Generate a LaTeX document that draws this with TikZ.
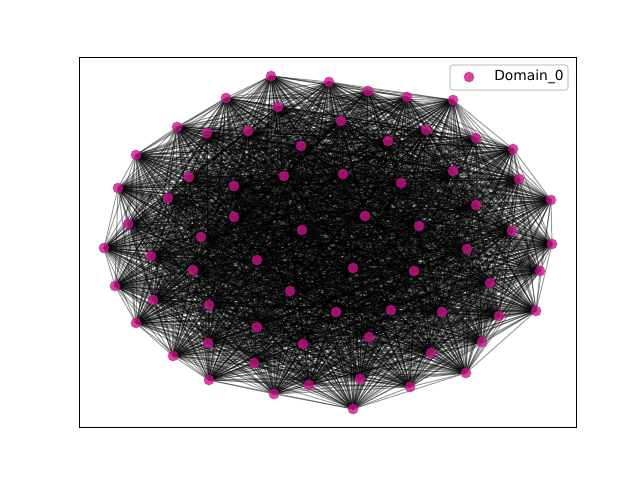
\documentclass[tikz,border=0pt]{standalone}
\usepackage{fontspec}
\setmainfont{DejaVu Sans}
\usepackage{xcolor}
\usetikzlibrary{backgrounds}

\definecolor{domcol}{RGB}{199,21,133}

\begin{document}
\begin{tikzpicture}[
    x=0.01in, y=-0.01in,
    dom/.style={circle, fill=domcol, fill opacity=0.8, inner sep=0pt, minimum size=0.107in},
    edge/.style={draw=black, opacity=0.4, line width=0.7pt},
    frame/.style={draw=black, line width=0.8pt},
    legendbox/.style={draw=black!20, fill=white, fill opacity=0.8, rounded corners=2pt, line width=0.8pt}
]
\useasboundingbox (0,0) rectangle (640,480);

% Nodes of Domain_0
\foreach \x/\y [count=\k] in {271/76, 329/82, 368/91, 407/97, 453/100, 226/98, 278/107, 341/121,
    177/127, 207/133, 248/131, 426/130, 476/138, 388/141, 301/146, 513/149, 136/155, 453/171,
    284/176, 343/174, 189/177, 519/179, 401/183, 234/186, 118/188, 168/198, 551/200, 476/205,
    365/216, 234/217, 128/224, 419/226, 302/230, 512/231, 201/237, 552/244, 104/248, 467/249,
    151/256, 257/260, 353/268, 193/270, 414/271, 540/271, 490/283, 115/286, 290/291, 153/300,
    209/305, 442/312, 336/312, 391/310, 536/311, 499/316, 136/323, 257/327, 369/337, 482/342,
    208/343, 303/344, 431/353, 173/356, 254/363, 466/373, 360/379, 209/380, 309/385, 410/387,
    274/394, 353/409}
  \node[dom] (n\k) at (\x,\y) {};

% Edges (every pair)
\begin{pgfonlayer}{background}
\foreach \i in {1,...,69} {
  \pgfmathtruncatemacro\nxt{\i+1}
  \foreach \j in {\nxt,...,70}
    \draw[edge] (n\i.center) -- (n\j.center);
}
\end{pgfonlayer}

% Axes frame
\node[frame, minimum width=4.96in, minimum height=3.69in, inner sep=0pt] (axes) at (328,242.5) {};

% Legend
\node[legendbox, minimum width=1.18in, minimum height=0.25in, inner sep=0pt] (legend) at (509,77.5) {};
\node[dom] (lmark) at (469,77) {};
\node[anchor=west, inner sep=0pt, font=\fontsize{10pt}{12pt}\selectfont] (ltext) at (494,77) {Domain\_0};

\end{tikzpicture}
\end{document}
